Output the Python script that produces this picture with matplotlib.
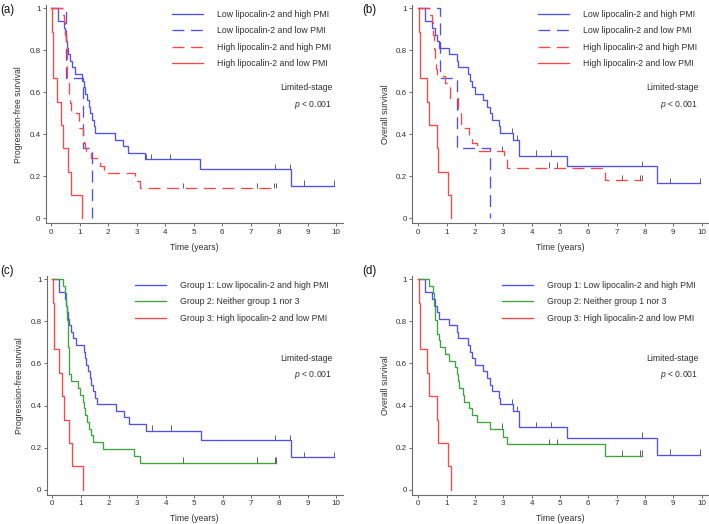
import numpy as np
import matplotlib
matplotlib.use("Agg")
import matplotlib.pyplot as plt
from matplotlib.lines import Line2D

plt.rcParams['font.family'] = ['Liberation Sans', 'DejaVu Sans']
plt.rcParams['mathtext.fontset'] = 'custom'
plt.rcParams['mathtext.it'] = 'Liberation Sans:italic'
plt.rcParams['mathtext.rm'] = 'Liberation Sans'

# ---------------- data ----------------
x_ticks = [0, 1, 2, 3, 4, 5, 6, 7, 8, 9, 10]
y_ticks = [0, 0.2, 0.4, 0.6, 0.8, 1]
y_tick_labels = ["0", "0.2", "0.4", "0.6", "0.8", "1"]

labels_four = ["Low lipocalin-2 and high PMI", "Low lipocalin-2 and low PMI",
               "High lipocalin-2 and high PMI", "High lipocalin-2 and low PMI"]
labels_three = ["Group 1: Low lipocalin-2 and high PMI", "Group 2: Neither group 1 nor 3",
                "Group 3: High lipocalin-2 and low PMI"]

# Progression-free survival
pfs_lowlip_highpmi_t = [0, 0.25, 0.45, 0.50, 0.53, 0.56, 0.60, 0.66, 0.74, 0.84, 1.10, 1.16, 1.20,
                        1.26, 1.32, 1.38, 1.45, 1.50, 1.56, 2.26, 2.53, 2.69, 3.31, 5.23, 8.41]
pfs_lowlip_highpmi_s = [1, 0.938, 0.906, 0.875, 0.844, 0.813, 0.781, 0.750, 0.719, 0.688, 0.656, 0.625,
                        0.594, 0.563, 0.531, 0.500, 0.469, 0.438, 0.406, 0.375, 0.344, 0.313, 0.281,
                        0.234, 0.156]
pfs_lowlip_highpmi_c = [3.32, 3.52, 4.17, 7.86, 8.38, 8.87, 9.93]
pfs_lowlip_highpmi_end = 9.93

pfs_lowlip_lowpmi_t = [0, 0.52, 1.11, 1.44]
pfs_lowlip_lowpmi_s = [1, 0.667, 0.333, 0]
pfs_lowlip_lowpmi_c = []
pfs_lowlip_lowpmi_end = 1.44

pfs_highlip_highpmi_t = [0, 0.40, 0.45, 0.48, 0.52, 0.55, 0.57, 0.64, 0.67, 0.70, 0.98, 1.12, 1.15,
                         1.18, 1.22, 1.40, 1.73, 1.85, 2.95, 3.12]
pfs_highlip_highpmi_s = [1, 0.968, 0.935, 0.871, 0.839, 0.742, 0.645, 0.581, 0.548, 0.500, 0.429,
                         0.393, 0.357, 0.333, 0.321, 0.286, 0.250, 0.214, 0.179, 0.143]
pfs_highlip_highpmi_c = [4.62, 7.22, 7.82, 7.90]
pfs_highlip_highpmi_end = 7.90

pfs_highlip_lowpmi_t = [0, 0.02, 0.07, 0.22, 0.34, 0.43, 0.59, 0.71, 1.08]
pfs_highlip_lowpmi_s = [1, 0.889, 0.667, 0.556, 0.444, 0.333, 0.222, 0.111, 0]
pfs_highlip_lowpmi_c = []
pfs_highlip_lowpmi_end = 1.08

pfs_group2_t = [0, 0.37, 0.45, 0.50, 0.52, 0.54, 0.56, 0.58, 0.60, 0.65, 0.92, 0.98, 1.08, 1.12,
                1.16, 1.21, 1.31, 1.37, 1.45, 1.79, 2.89, 3.08]
pfs_group2_s = [1, 0.968, 0.935, 0.871, 0.806, 0.742, 0.677, 0.613, 0.548, 0.516, 0.484, 0.452,
                0.419, 0.387, 0.355, 0.323, 0.290, 0.258, 0.226, 0.194, 0.161, 0.129]
pfs_group2_c = [4.62, 7.22, 7.84, 7.90]
pfs_group2_end = 7.90

# Overall survival
os_lowlip_highpmi_t = [0, 0.24, 0.49, 0.59, 0.65, 0.72, 1.09, 1.35, 1.41, 1.77, 1.82, 1.88, 2.00,
                       2.29, 2.41, 2.53, 2.59, 2.86, 2.90, 3.35, 3.55, 5.24, 8.41]
os_lowlip_highpmi_s = [1, 0.938, 0.906, 0.875, 0.844, 0.813, 0.781, 0.750, 0.719, 0.688, 0.656,
                       0.625, 0.594, 0.563, 0.531, 0.500, 0.469, 0.438, 0.406, 0.372, 0.298,
                       0.248, 0.166]
os_lowlip_highpmi_c = [3.30, 3.50, 4.15, 4.70, 7.90, 8.88, 9.93]
os_lowlip_highpmi_end = 9.93

os_lowlip_lowpmi_t = [0, 0.76, 1.35, 2.53]
os_lowlip_lowpmi_s = [1, 0.667, 0.333, 0]
os_lowlip_lowpmi_c = []
os_lowlip_lowpmi_end = 2.53

os_highlip_highpmi_t = [0, 0.37, 0.49, 0.53, 0.55, 0.58, 0.62, 0.65, 0.94, 1.12, 1.39, 1.50, 1.80,
                        1.90, 2.06, 3.04, 3.12, 6.59]
os_highlip_highpmi_s = [1, 0.968, 0.935, 0.871, 0.806, 0.742, 0.710, 0.677, 0.645, 0.571, 0.500,
                        0.429, 0.393, 0.357, 0.321, 0.281, 0.241, 0.181]
os_highlip_highpmi_c = [2.94, 4.60, 4.90, 7.20, 7.82, 7.88]
os_highlip_highpmi_end = 7.90

os_highlip_lowpmi_t = [0, 0.02, 0.06, 0.29, 0.38, 0.67, 0.70, 1.06, 1.14]
os_highlip_lowpmi_s = [1, 0.889, 0.667, 0.556, 0.444, 0.333, 0.222, 0.111, 0]
os_highlip_lowpmi_c = []
os_highlip_lowpmi_end = 1.14

os_group2_t = [0, 0.39, 0.51, 0.55, 0.57, 0.59, 0.65, 0.74, 0.77, 0.93, 1.10, 1.30, 1.35, 1.41,
               1.44, 1.57, 1.60, 1.80, 1.88, 2.06, 2.53, 3.00, 3.14, 6.59]
os_group2_s = [1, 0.968, 0.935, 0.903, 0.871, 0.806, 0.742, 0.710, 0.677, 0.645, 0.613, 0.581,
               0.548, 0.516, 0.484, 0.452, 0.419, 0.387, 0.355, 0.323, 0.290, 0.252, 0.216, 0.162]
os_group2_c = [2.94, 4.60, 4.90, 7.20, 7.82, 7.88]
os_group2_end = 7.90

# ---------------- styling ----------------
BLUE = '#5050f0'
RED = '#ff4545'
GREEN = '#3da33d'
SPINE = '#6a6a6a'
TXT = '#303030'
DASH = (0, (9, 5))
LW = 0.95

W, H = 709, 524
fig = plt.figure(figsize=(W / 100, H / 100), dpi=100)

YLIM = (-0.024, 1.016)


def make_axes(left_px, right_px, top_px, bottom_px, x0_px, x10_px):
    ax = fig.add_axes([left_px / W, 1 - bottom_px / H, (right_px - left_px) / W,
                       (bottom_px - top_px) / H])
    per = (x10_px - x0_px) / 10.0
    ax.set_xlim((left_px - x0_px) / per, (right_px - x0_px) / per)
    ax.set_ylim(*YLIM)
    for s in ['top', 'right']:
        ax.spines[s].set_visible(False)
    for s in ['left', 'bottom']:
        ax.spines[s].set_color(SPINE)
        ax.spines[s].set_linewidth(0.8)
    ax.set_xticks(x_ticks)
    ax.set_yticks(y_ticks)
    ax.set_yticklabels(y_tick_labels)
    ax.tick_params(axis='both', colors=SPINE, labelcolor=TXT, labelsize=5.8,
                   length=2.2, width=0.7, pad=1.6)
    ax.set_facecolor('none')
    return ax


def km(ax, t, s, cens, end, color, ls):
    tt = list(t) + [end]
    ss = list(s) + [s[-1]]
    ax.step(tt, ss, where='post', color=color, lw=LW, linestyle=ls,
            solid_joinstyle='miter', clip_on=False)
    if len(cens):
        idx = np.searchsorted(np.array(t), np.array(cens), side='right') - 1
        cs = np.array(s)[idx]
        ax.vlines(cens, cs, cs + 0.025, color='#606060', lw=0.7)


def annotate(ax, ylabel, legend_handles, legend_labels, leg_x, leg_y, txt_right, txt_y1, txt_y2,
             panel, ylab_x):
    ax.set_ylabel(ylabel, fontsize=6.2, color=TXT)
    ax.yaxis.set_label_coords(ylab_x, 0.5)
    ax.set_xlabel("Time (years)", fontsize=6.2, color=TXT)
    ax.xaxis.set_label_coords(0.5, -0.088)
    ax.legend(legend_handles, legend_labels, loc='upper left',
              bbox_to_anchor=(leg_x / W, 1 - leg_y / H), bbox_transform=fig.transFigure,
              frameon=False, fontsize=6.3, handlelength=3.55, handletextpad=1.6,
              labelspacing=0.86, borderpad=0, borderaxespad=0, labelcolor=TXT)
    fig.text(txt_right / W, 1 - txt_y1 / H, "Limited-stage", ha='right', va='center',
             fontsize=6.2, color=TXT)
    fig.text(txt_right / W, 1 - txt_y2 / H, "$p$ < 0.001", ha='right', va='center',
             fontsize=6.2, color=TXT)
    fig.text(panel[0] / W, 1 - panel[1] / H, panel[2], ha='left', va='center',
             fontsize=8.3, color='#111111')


def h(color, ls):
    return Line2D([], [], color=color, lw=LW, linestyle=ls)


# (a)
ax_a = make_axes(45.7, 342.7, 5.0, 223.3, 51.0, 336.0)
km(ax_a, pfs_lowlip_highpmi_t, pfs_lowlip_highpmi_s, pfs_lowlip_highpmi_c, pfs_lowlip_highpmi_end, BLUE, '-')
km(ax_a, pfs_lowlip_lowpmi_t, pfs_lowlip_lowpmi_s, pfs_lowlip_lowpmi_c, pfs_lowlip_lowpmi_end, BLUE, DASH)
km(ax_a, pfs_highlip_highpmi_t, pfs_highlip_highpmi_s, pfs_highlip_highpmi_c, pfs_highlip_highpmi_end, RED, DASH)
km(ax_a, pfs_highlip_lowpmi_t, pfs_highlip_lowpmi_s, pfs_highlip_lowpmi_c, pfs_highlip_lowpmi_end, RED, '-')
annotate(ax_a, "Progression-free survival",
         [h(BLUE, '-'), h(BLUE, DASH), h(RED, DASH), h(RED, '-')], labels_four,
         172, 9.8, 332.3, 87.3, 105.0, (0, 10, "(a)"), -0.077)

# (b)
ax_b = make_axes(412.3, 707.7, 5.0, 223.3, 418.3, 701.7)
km(ax_b, os_lowlip_highpmi_t, os_lowlip_highpmi_s, os_lowlip_highpmi_c, os_lowlip_highpmi_end, BLUE, '-')
km(ax_b, os_lowlip_lowpmi_t, os_lowlip_lowpmi_s, os_lowlip_lowpmi_c, os_lowlip_lowpmi_end, BLUE, DASH)
km(ax_b, os_highlip_highpmi_t, os_highlip_highpmi_s, os_highlip_highpmi_c, os_highlip_highpmi_end, RED, DASH)
km(ax_b, os_highlip_lowpmi_t, os_highlip_lowpmi_s, os_highlip_lowpmi_c, os_highlip_lowpmi_end, RED, '-')
annotate(ax_b, "Overall survival",
         [h(BLUE, '-'), h(BLUE, DASH), h(RED, DASH), h(RED, '-')], labels_four,
         537.7, 9.8, 698.3, 87.3, 105.0, (362, 10, "(b)"), -0.076)

# (c)
ax_c = make_axes(46.7, 342.7, 276.0, 494.7, 52.3, 336.0)
km(ax_c, pfs_lowlip_highpmi_t, pfs_lowlip_highpmi_s, pfs_lowlip_highpmi_c, pfs_lowlip_highpmi_end, BLUE, '-')
km(ax_c, pfs_group2_t, pfs_group2_s, pfs_group2_c, pfs_group2_end, GREEN, '-')
km(ax_c, pfs_highlip_lowpmi_t, pfs_highlip_lowpmi_s, pfs_highlip_lowpmi_c, pfs_highlip_lowpmi_end, RED, '-')
annotate(ax_c, "Progression-free survival",
         [h(BLUE, '-'), h(GREEN, '-'), h(RED, '-')], labels_three,
         135, 280.9, 332.3, 358.7, 375.3, (0, 271, "(c)"), -0.077)

# (d)
ax_d = make_axes(412.3, 707.7, 276.0, 494.7, 418.3, 701.7)
km(ax_d, os_lowlip_highpmi_t, os_lowlip_highpmi_s, os_lowlip_highpmi_c, os_lowlip_highpmi_end, BLUE, '-')
km(ax_d, os_group2_t, os_group2_s, os_group2_c, os_group2_end, GREEN, '-')
km(ax_d, os_highlip_lowpmi_t, os_highlip_lowpmi_s, os_highlip_lowpmi_c, os_highlip_lowpmi_end, RED, '-')
annotate(ax_d, "Overall survival",
         [h(BLUE, '-'), h(GREEN, '-'), h(RED, '-')], labels_three,
         501.7, 280.9, 698.3, 358.7, 375.3, (362, 271, "(d)"), -0.076)

fig.savefig("out.png", dpi=100, facecolor='white')
